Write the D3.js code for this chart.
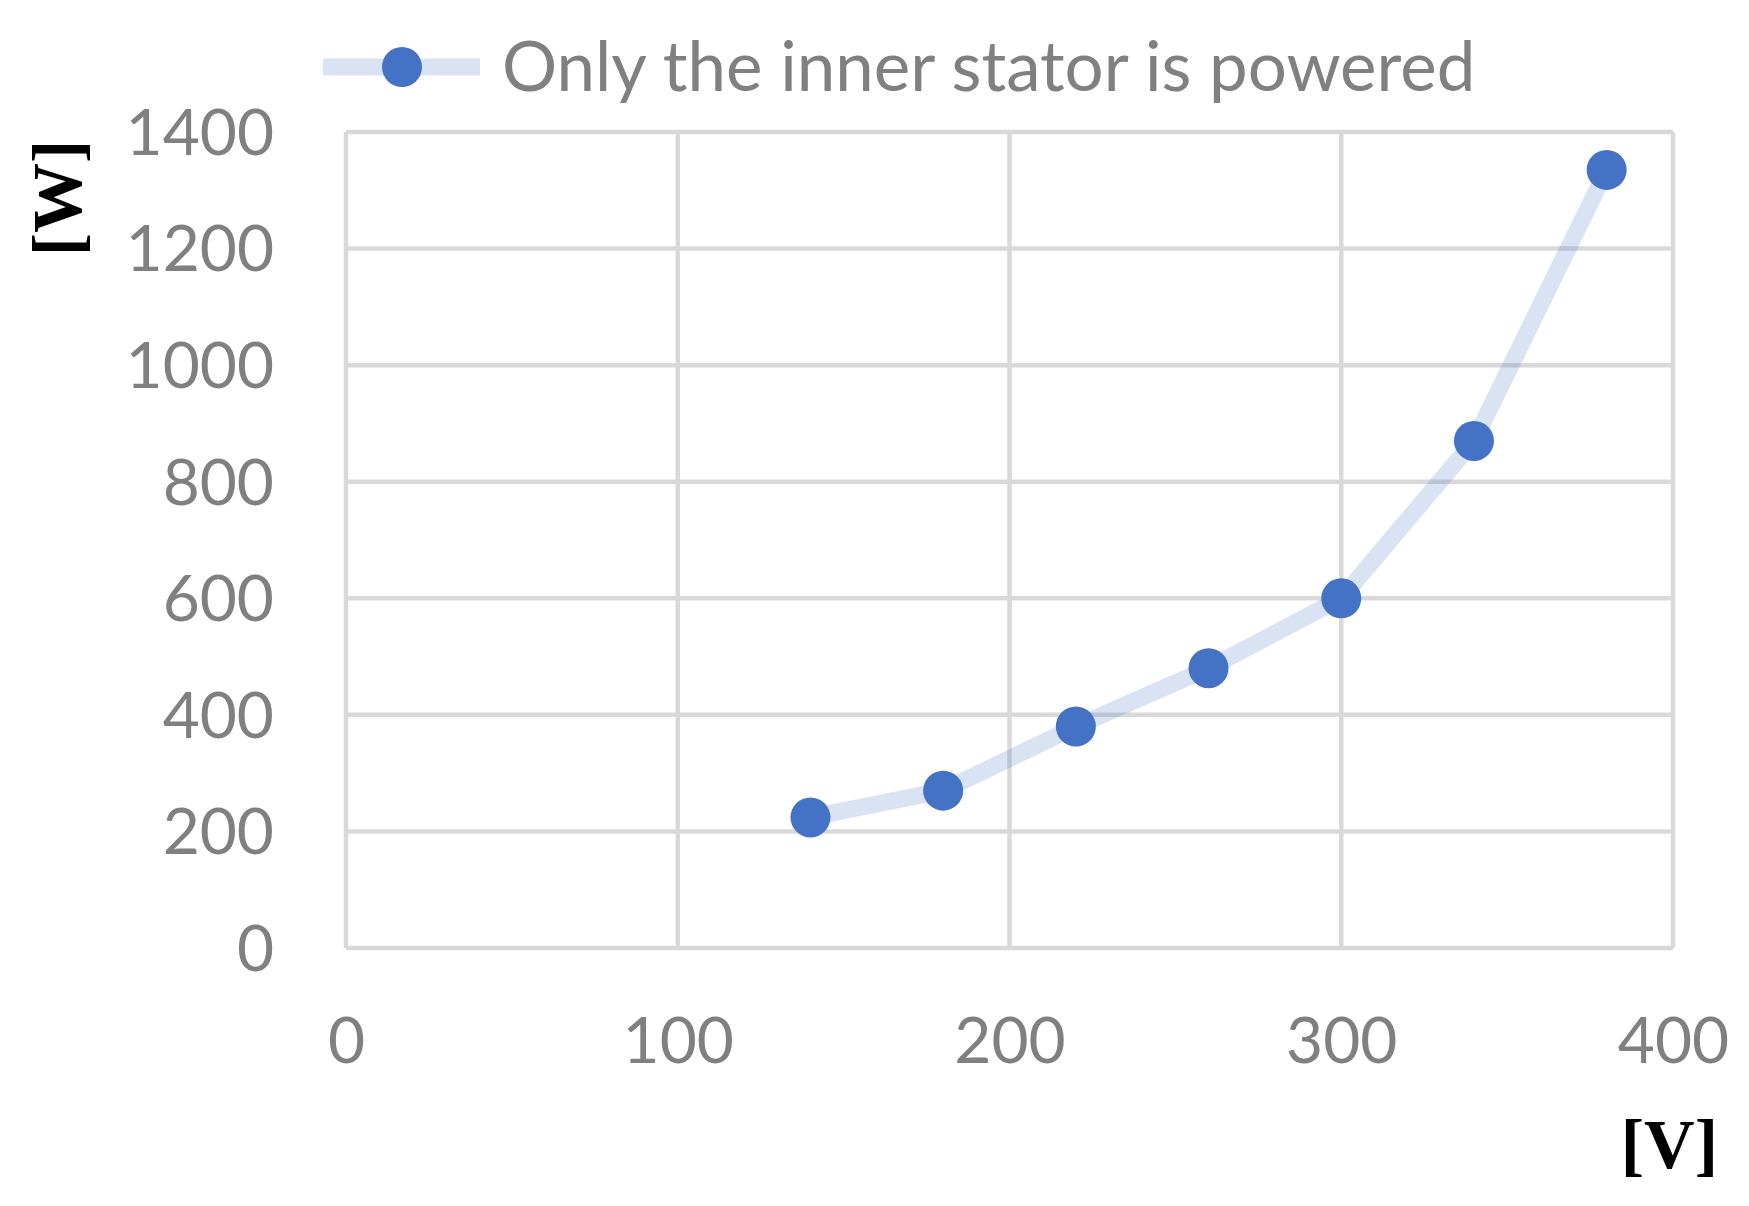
<!DOCTYPE html>
<html><head><meta charset="utf-8">
<script src="https://cdn.jsdelivr.net/npm/d3@7"></script>
<style>html,body{margin:0;padding:0;background:#fff;}</style>
</head><body>
<script>
const seriesName = "Only the inner stator is powered";
const voltage = [140, 180, 220, 260, 300, 340, 380];
const power = [224, 270, 380, 480, 600, 870, 1335];
const xTicks = [0, 100, 200, 300, 400];
const yTicks = [0, 200, 400, 600, 800, 1000, 1200, 1400];
const xTitle = "[V]";
const yTitle = "[W]";

const W = 1749, H = 1206;
const svg = d3.select("body").append("svg").attr("width", W).attr("height", H);
const x = d3.scaleLinear().domain([0, 400]).range([346, 1673]);
const y = d3.scaleLinear().domain([0, 1400]).range([948, 132]);
const grid = "#d9d9d9", txt = "#808080", blue = "#4472c4";
const font = "Lato, 'Open Sans', sans-serif";

// gridlines
svg.append("g").selectAll("line").data(yTicks).join("line")
  .attr("x1", x(0)).attr("x2", x(400)).attr("y1", d => y(d)).attr("y2", d => y(d))
  .attr("stroke", grid).attr("stroke-width", 4.5);
svg.append("g").selectAll("line").data(xTicks).join("line")
  .attr("y1", y(0)).attr("y2", y(1400)).attr("x1", d => x(d)).attr("x2", d => x(d))
  .attr("stroke", grid).attr("stroke-width", 4.5);

// axes labels via d3 axes
const yAxis = svg.append("g").attr("transform", `translate(${x(0)},0)`)
  .call(d3.axisLeft(y).tickValues(yTicks).tickFormat(d3.format("d")).tickSize(0).tickPadding(72));
yAxis.select(".domain").remove();
yAxis.selectAll("text").attr("fill", txt).attr("font-family", font).attr("font-size", 64).attr("dy", "0.35em");

const xAxis = svg.append("g").attr("transform", `translate(0,${y(0)})`)
  .call(d3.axisBottom(x).tickValues(xTicks).tickFormat(d3.format("d")).tickSize(0).tickPadding(70));
xAxis.select(".domain").remove();
xAxis.selectAll("text").attr("fill", txt).attr("font-family", font).attr("font-size", 64).attr("dy", "0.71em");

// line
const line = d3.line().x((d, i) => x(voltage[i])).y(d => y(d));
svg.append("path").datum(power).attr("d", line).attr("fill", "none")
  .attr("stroke", blue).attr("stroke-opacity", 0.2).attr("stroke-width", 17)
  .attr("stroke-linejoin", "round");
svg.append("g").selectAll("circle").data(power).join("circle")
  .attr("cx", (d, i) => x(voltage[i])).attr("cy", d => y(d)).attr("r", 20).attr("fill", blue);

// legend
svg.append("line").attr("x1", 323).attr("x2", 480).attr("y1", 67).attr("y2", 67)
  .attr("stroke", blue).attr("stroke-opacity", 0.2).attr("stroke-width", 17);
svg.append("circle").attr("cx", 402).attr("cy", 67).attr("r", 20).attr("fill", blue);
svg.append("text").attr("x", 502).attr("y", 67).attr("dy", "0.35em")
  .attr("fill", txt).attr("font-family", font).attr("font-size", 69).text(seriesName);

// axis titles
svg.append("text").attr("transform", `translate(56,198) rotate(-90)`)
  .attr("text-anchor", "middle").attr("dy", "0.35em")
  .attr("font-family", "'Liberation Serif', 'Times New Roman', serif").attr("font-weight", "bold")
  .attr("font-size", 70).attr("fill", "#000").text(yTitle);
svg.append("text").attr("x", 1718).attr("y", 1143).attr("text-anchor", "end").attr("dy", "0.35em")
  .attr("font-family", "'Liberation Serif', 'Times New Roman', serif").attr("font-weight", "bold")
  .attr("font-size", 70).attr("fill", "#000").text(xTitle);
</script>
</body></html>
